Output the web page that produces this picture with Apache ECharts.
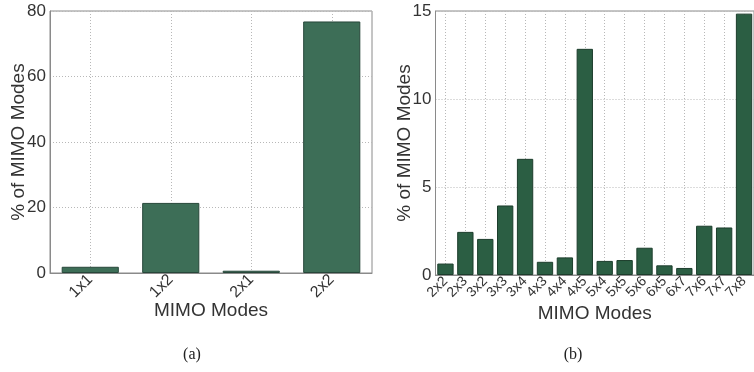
<!DOCTYPE html>
<html>
<head>
<meta charset="utf-8">
<style>
  html, body { margin: 0; padding: 0; background: #fff; }
  #chart { width: 754px; height: 372px; }
</style>
<script src="https://cdn.jsdelivr.net/npm/echarts@6/dist/echarts.min.js"></script>
</head>
<body>
<div id="chart"></div>
<script>
// ---- Data ----
var catsA = ['1x1', '1x2', '2x1', '2x2'];
var valsA = [1.9, 21.4, 0.7, 76.8];

var catsB = ['2x2', '2x3', '3x2', '3x3', '3x4', '4x3', '4x4', '4x5', '5x4', '5x5', '5x6', '6x5', '6x7', '7x6', '7x7', '7x8'];
var valsB = [0.65, 2.45, 2.05, 3.95, 6.6, 0.75, 1.0, 12.85, 0.8, 0.85, 1.55, 0.55, 0.4, 2.8, 2.7, 14.85];

var yTicksA = { min: 0, max: 80, interval: 20 };
var yTicksB = { min: 0, max: 15, interval: 5 };

var axisName = 'MIMO Modes';
var yName = '% of MIMO Modes';
var captions = ['(a)', '(b)'];

// ---- Styles ----
var FONT = '"Liberation Sans", Arial, Helvetica, sans-serif';
var TXT = '#333';
var GRIDC = '#b8b8b8';
var BORDER = '#8a8a8a';

function xAxisCfg(gridIndex, cats, labelSize, gap) {
  return {
    type: 'category', gridIndex: gridIndex, data: cats, boundaryGap: true,
    name: axisName, nameLocation: 'middle', nameGap: gap, nameMoveOverlap: false,
    nameTextStyle: { fontFamily: FONT, fontSize: 19, color: TXT },
    axisLine: { show: true, lineStyle: { color: BORDER, width: 1 } },
    axisTick: { show: false },
    axisLabel: { rotate: 45, margin: 4, fontFamily: FONT, fontSize: labelSize, color: TXT, interval: 0 },
    splitLine: { show: true, alignWithLabel: true, lineStyle: { color: GRIDC, type: [1, 2], width: 1 } }
  };
}
function yAxisCfg(gridIndex, t, gap) {
  return {
    type: 'value', gridIndex: gridIndex, min: t.min, max: t.max, interval: t.interval,
    name: yName, nameLocation: 'middle', nameGap: gap, nameMoveOverlap: false,
    nameTextStyle: { fontFamily: FONT, fontSize: 19, color: TXT },
    axisLine: { show: true, lineStyle: { color: BORDER, width: 1 } },
    axisTick: { show: false },
    axisLabel: { margin: 4, fontFamily: FONT, fontSize: 17, color: TXT },
    splitLine: { show: true, lineStyle: { color: GRIDC, type: [1, 2], width: 1 } }
  };
}

var chart = echarts.init(document.getElementById('chart'), null, { renderer: 'canvas' });
chart.setOption({
  backgroundColor: '#ffffff',
  animation: false,
  grid: [
    { left: 50, top: 11, width: 322, height: 262, show: true, borderColor: BORDER, borderWidth: 1, backgroundColor: 'transparent' },
    { left: 435.5, top: 11, width: 325, height: 264, show: true, borderColor: BORDER, borderWidth: 1, backgroundColor: 'transparent' }
  ],
  xAxis: [ xAxisCfg(0, catsA, 16, 28), xAxisCfg(1, catsB, 14, 29.5) ],
  yAxis: [ yAxisCfg(0, yTicksA, 22), yAxisCfg(1, yTicksB, 21) ],
  series: [
    {
      type: 'bar', xAxisIndex: 0, yAxisIndex: 0, data: valsA, barCategoryGap: '29%',
      itemStyle: { color: '#3d6e57', borderColor: '#27473a', borderWidth: 1 }
    },
    {
      type: 'bar', xAxisIndex: 1, yAxisIndex: 1, data: valsB, barCategoryGap: '18%',
      itemStyle: { color: '#2b5e43', borderColor: '#1c3d2c', borderWidth: 1 }
    }
  ],
  graphic: [
    { type: 'text', x: 192, y: 355, style: { text: captions[0], font: '16px "Liberation Serif", serif', fill: '#222', align: 'center', verticalAlign: 'middle' } },
    { type: 'text', x: 573, y: 355, style: { text: captions[1], font: '16px "Liberation Serif", serif', fill: '#222', align: 'center', verticalAlign: 'middle' } }
  ]
});
</script>
</body>
</html>
